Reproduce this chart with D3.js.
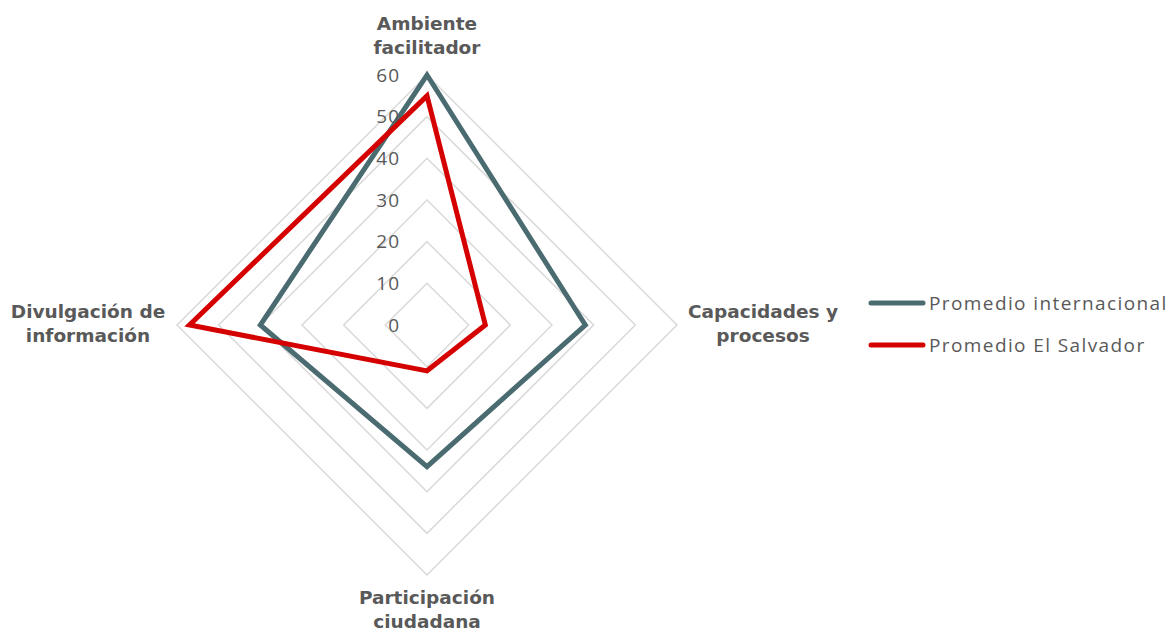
<!DOCTYPE html>
<html>
<head>
<meta charset="utf-8">
<script src="https://cdn.jsdelivr.net/npm/d3@7"></script>
<style>
  html, body { margin: 0; padding: 0; background: #fff; }
  svg { display: block; font-family: "Open Sans", "DejaVu Sans", sans-serif; }
</style>
</head>
<body>
<svg id="chart" width="1173" height="632"></svg>
<script>
// Dimensions of the radar (four axes, clockwise from the top)
const axes = [
  ["Ambiente", "facilitador"],
  ["Capacidades y", "procesos"],
  ["Participación", "ciudadana"],
  ["Divulgación de", "información"]
];
const tickValues = [0, 10, 20, 30, 40, 50, 60];
const seriesNames = ["Promedio internacional", "Promedio El Salvador"];
const internacional = [60, 38, 34, 40];
const elSalvador = [55, 14, 11, 57];
const seriesColors = ["#4a6b70", "#d50000"];

const svg = d3.select("#chart");
const cx = 427, cy = 325, R = 250;

const r = d3.scaleLinear().domain([0, 60]).range([0, R]);
const angle = d3.scalePoint().domain(d3.range(axes.length)).range([0, 2 * Math.PI * (axes.length - 1) / axes.length]);

const point = (i, v) => {
  const a = angle(i) - Math.PI / 2;
  return [cx + r(v) * Math.cos(a), cy + r(v) * Math.sin(a)];
};

// Grid rings
const ringLine = d3.line().curve(d3.curveLinearClosed);
svg.append("g").selectAll("path")
  .data(tickValues.slice(1))
  .join("path")
  .attr("d", v => ringLine(axes.map((_, i) => point(i, v))))
  .attr("fill", "none")
  .attr("stroke", "#d9d9d9")
  .attr("stroke-width", 1.5);

// Series polygons
const data = [internacional, elSalvador];
svg.append("g").selectAll("path")
  .data(data)
  .join("path")
  .attr("d", vals => ringLine(vals.map((v, i) => point(i, v))))
  .attr("fill", "none")
  .attr("stroke", (_, k) => seriesColors[k])
  .attr("stroke-width", 5)
  .attr("stroke-linejoin", "miter");

// Radial tick labels
svg.append("g").selectAll("text")
  .data(tickValues)
  .join("text")
  .attr("x", cx - 27)
  .attr("y", v => cy - r(v))
  .attr("dy", "0.35em")
  .attr("text-anchor", "end")
  .attr("font-size", 19)
  .attr("letter-spacing", 1)
  .attr("fill", "#595959")
  .text(v => v);

// Axis labels
const labelPos = [
  { x: cx, y: 30 },
  { x: 763, y: 318 },
  { x: cx, y: 604 },
  { x: 88, y: 318 }
];
const labels = svg.append("g").selectAll("text")
  .data(axes)
  .join("text")
  .attr("x", (_, i) => labelPos[i].x)
  .attr("y", (_, i) => labelPos[i].y)
  .attr("text-anchor", "middle")
  .attr("font-family", "'DejaVu Sans', sans-serif")
  .attr("font-size", 18.5)
  .attr("font-weight", "bold")
  .attr("fill", "#595959");
labels.selectAll("tspan")
  .data((d, i) => d.map(t => ({ t, x: labelPos[i].x })))
  .join("tspan")
  .attr("x", d => d.x)
  .attr("dy", (_, j) => j === 0 ? 0 : 24)
  .text(d => d.t);

// Legend
const legend = svg.append("g").selectAll("g")
  .data(seriesNames)
  .join("g")
  .attr("transform", (_, k) => `translate(871, ${303 + k * 42})`);
legend.append("line")
  .attr("x1", 0).attr("x2", 52)
  .attr("stroke", (_, k) => seriesColors[k])
  .attr("stroke-width", 5)
  .attr("stroke-linecap", "round");
legend.append("text")
  .attr("x", 58)
  .attr("dy", "0.35em")
  .attr("font-size", 19)
  .attr("letter-spacing", 1.4)
  .attr("fill", "#595959")
  .text(d => d);
</script>
</body>
</html>
